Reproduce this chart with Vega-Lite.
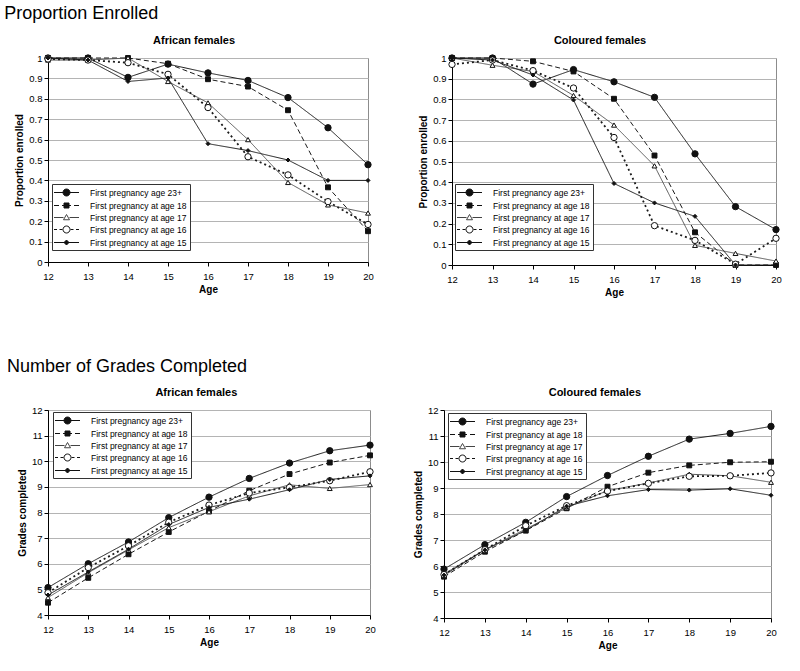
{
  "$schema": "https://vega.github.io/schema/vega-lite/v6.json",
  "padding": {"left": 4, "top": 5, "right": 0, "bottom": 0},
  "background": "white",
  "spacing": 59,
  "resolve": {"scale": {"shape": "independent", "fill": "independent", "stroke": "independent"}, "legend": {"shape": "independent", "fill": "independent", "stroke": "independent"}},
  "datasets": {
    "eA": [
      {"a":12,"s":"23+","v":1.0},{"a":13,"s":"23+","v":1.0},{"a":14,"s":"23+","v":0.905},{"a":15,"s":"23+","v":0.97},{"a":16,"s":"23+","v":0.927},{"a":17,"s":"23+","v":0.89},{"a":18,"s":"23+","v":0.806},{"a":19,"s":"23+","v":0.658},{"a":20,"s":"23+","v":0.477},
      {"a":12,"s":"18","v":1.0},{"a":13,"s":"18","v":1.0},{"a":14,"s":"18","v":1.0},{"a":15,"s":"18","v":0.972},{"a":16,"s":"18","v":0.896},{"a":17,"s":"18","v":0.86},{"a":18,"s":"18","v":0.744},{"a":19,"s":"18","v":0.366},{"a":20,"s":"18","v":0.151},
      {"a":12,"s":"17","v":0.99},{"a":13,"s":"17","v":0.99},{"a":14,"s":"17","v":1.0},{"a":15,"s":"17","v":0.885},{"a":16,"s":"17","v":0.78},{"a":17,"s":"17","v":0.6},{"a":18,"s":"17","v":0.39},{"a":19,"s":"17","v":0.28},{"a":20,"s":"17","v":0.24},
      {"a":12,"s":"16","v":0.995},{"a":13,"s":"16","v":0.99},{"a":14,"s":"16","v":0.977},{"a":15,"s":"16","v":0.92},{"a":16,"s":"16","v":0.757},{"a":17,"s":"16","v":0.516},{"a":18,"s":"16","v":0.427},{"a":19,"s":"16","v":0.296},{"a":20,"s":"16","v":0.184},
      {"a":12,"s":"15","v":1.0},{"a":13,"s":"15","v":0.99},{"a":14,"s":"15","v":0.885},{"a":15,"s":"15","v":0.902},{"a":16,"s":"15","v":0.58},{"a":17,"s":"15","v":0.546},{"a":18,"s":"15","v":0.5},{"a":19,"s":"15","v":0.4},{"a":20,"s":"15","v":0.4}
    ],
    "eC": [
      {"a":12,"s":"23+","v":1.0},{"a":13,"s":"23+","v":1.0},{"a":14,"s":"23+","v":0.874},{"a":15,"s":"23+","v":0.944},{"a":16,"s":"23+","v":0.885},{"a":17,"s":"23+","v":0.81},{"a":18,"s":"23+","v":0.537},{"a":19,"s":"23+","v":0.282},{"a":20,"s":"23+","v":0.171},
      {"a":12,"s":"18","v":1.0},{"a":13,"s":"18","v":1.0},{"a":14,"s":"18","v":0.984},{"a":15,"s":"18","v":0.935},{"a":16,"s":"18","v":0.803},{"a":17,"s":"18","v":0.529},{"a":18,"s":"18","v":0.158},{"a":19,"s":"18","v":0.0},{"a":20,"s":"18","v":0.0},
      {"a":12,"s":"17","v":1.0},{"a":13,"s":"17","v":0.965},{"a":14,"s":"17","v":0.935},{"a":15,"s":"17","v":0.819},{"a":16,"s":"17","v":0.676},{"a":17,"s":"17","v":0.479},{"a":18,"s":"17","v":0.095},{"a":19,"s":"17","v":0.056},{"a":20,"s":"17","v":0.019},
      {"a":12,"s":"16","v":0.969},{"a":13,"s":"16","v":0.99},{"a":14,"s":"16","v":0.939},{"a":15,"s":"16","v":0.855},{"a":16,"s":"16","v":0.616},{"a":17,"s":"16","v":0.19},{"a":18,"s":"16","v":0.119},{"a":19,"s":"16","v":0.004},{"a":20,"s":"16","v":0.129},
      {"a":12,"s":"15","v":1.0},{"a":13,"s":"15","v":0.99},{"a":14,"s":"15","v":0.918},{"a":15,"s":"15","v":0.797},{"a":16,"s":"15","v":0.394},{"a":17,"s":"15","v":0.3},{"a":18,"s":"15","v":0.235},{"a":19,"s":"15","v":0.0},{"a":20,"s":"15","v":0.0}
    ],
    "gA": [
      {"a":12,"s":"23+","v":5.07},{"a":13,"s":"23+","v":6.0},{"a":14,"s":"23+","v":6.85},{"a":15,"s":"23+","v":7.8},{"a":16,"s":"23+","v":8.6},{"a":17,"s":"23+","v":9.33},{"a":18,"s":"23+","v":9.93},{"a":19,"s":"23+","v":10.41},{"a":20,"s":"23+","v":10.63},
      {"a":12,"s":"18","v":4.48},{"a":13,"s":"18","v":5.45},{"a":14,"s":"18","v":6.37},{"a":15,"s":"18","v":7.24},{"a":16,"s":"18","v":8.05},{"a":17,"s":"18","v":8.85},{"a":18,"s":"18","v":9.5},{"a":19,"s":"18","v":9.95},{"a":20,"s":"18","v":10.23},
      {"a":12,"s":"17","v":4.68},{"a":13,"s":"17","v":5.65},{"a":14,"s":"17","v":6.54},{"a":15,"s":"17","v":7.41},{"a":16,"s":"17","v":8.03},{"a":17,"s":"17","v":8.65},{"a":18,"s":"17","v":9.08},{"a":19,"s":"17","v":8.94},{"a":20,"s":"17","v":9.09},
      {"a":12,"s":"16","v":4.87},{"a":13,"s":"16","v":5.85},{"a":14,"s":"16","v":6.7},{"a":15,"s":"16","v":7.62},{"a":16,"s":"16","v":8.29},{"a":17,"s":"16","v":8.76},{"a":18,"s":"16","v":8.98},{"a":19,"s":"16","v":9.24},{"a":20,"s":"16","v":9.59},
      {"a":12,"s":"15","v":4.78},{"a":13,"s":"15","v":5.68},{"a":14,"s":"15","v":6.57},{"a":15,"s":"15","v":7.53},{"a":16,"s":"15","v":8.2},{"a":17,"s":"15","v":8.52},{"a":18,"s":"15","v":8.89},{"a":19,"s":"15","v":9.29},{"a":20,"s":"15","v":9.43}
    ],
    "gC": [
      {"a":12,"s":"23+","v":5.88},{"a":13,"s":"23+","v":6.82},{"a":14,"s":"23+","v":7.68},{"a":15,"s":"23+","v":8.67},{"a":16,"s":"23+","v":9.48},{"a":17,"s":"23+","v":10.22},{"a":18,"s":"23+","v":10.88},{"a":19,"s":"23+","v":11.1},{"a":20,"s":"23+","v":11.37},
      {"a":12,"s":"18","v":5.59},{"a":13,"s":"18","v":6.55},{"a":14,"s":"18","v":7.36},{"a":15,"s":"18","v":8.22},{"a":16,"s":"18","v":9.05},{"a":17,"s":"18","v":9.59},{"a":18,"s":"18","v":9.87},{"a":19,"s":"18","v":9.99},{"a":20,"s":"18","v":10.01},
      {"a":12,"s":"17","v":5.69},{"a":13,"s":"17","v":6.63},{"a":14,"s":"17","v":7.42},{"a":15,"s":"17","v":8.24},{"a":16,"s":"17","v":8.9},{"a":17,"s":"17","v":9.19},{"a":18,"s":"17","v":9.53},{"a":19,"s":"17","v":9.47},{"a":20,"s":"17","v":9.22},
      {"a":12,"s":"16","v":5.67},{"a":13,"s":"16","v":6.63},{"a":14,"s":"16","v":7.55},{"a":15,"s":"16","v":8.32},{"a":16,"s":"16","v":8.88},{"a":17,"s":"16","v":9.18},{"a":18,"s":"16","v":9.45},{"a":19,"s":"16","v":9.47},{"a":20,"s":"16","v":9.58},
      {"a":12,"s":"15","v":5.65},{"a":13,"s":"15","v":6.62},{"a":14,"s":"15","v":7.37},{"a":15,"s":"15","v":8.3},{"a":16,"s":"15","v":8.7},{"a":17,"s":"15","v":8.94},{"a":18,"s":"15","v":8.92},{"a":19,"s":"15","v":8.97},{"a":20,"s":"15","v":8.72}
    ]
  },
  "vconcat": [
    {
      "title": {"text": "Proportion Enrolled", "anchor": "start", "fontSize": 18, "fontWeight": "normal", "font": "Liberation Sans", "color": "black", "offset": 11, "frame": "bounds", "dx": -10},
      "spacing": 44,
      "resolve": {"scale": {"shape": "independent", "fill": "independent", "stroke": "independent"}, "legend": {"shape": "independent", "fill": "independent", "stroke": "independent"}},
      "hconcat": [
        {
          "width": 320, "height": 204,
          "data": {"name": "eA"},
          "title": {"text": "African females", "frame": "bounds"},
          "encoding": {
            "x": {"field": "a", "type": "quantitative", "scale": {"domain": [12, 20], "nice": false, "zero": false}, "axis": {"values": [12,13,14,15,16,17,18,19,20], "grid": false, "title": "Age"}},
            "y": {"field": "v", "type": "quantitative", "scale": {"domain": [0, 1], "nice": false}, "axis": {"values": [0,0.1,0.2,0.3,0.4,0.5,0.6,0.7,0.8,0.9,1], "format": "~g", "title": "Proportion enrolled"}}
          },
          "layer": [
            {"mark": {"type": "line"}, "encoding": {"detail": {"field": "s"},
              "stroke": {"condition": {"test": "datum.s=='17'", "value": "#555"}, "value": "#1a1a1a"},
              "strokeDash": {"condition": [{"test": "datum.s=='18'", "value": [5, 3]}, {"test": "datum.s=='16'", "value": [2, 3]}], "value": [1, 0]},
              "strokeWidth": {"condition": {"test": "datum.s=='16'", "value": 1.8}, "value": 1}}},
            {"mark": {"type": "point", "filled": true, "stroke": "#111", "strokeWidth": 1, "opacity": 1},
             "encoding": {
              "shape": {"condition": [{"test": "datum.s=='18'", "value": "square"}, {"test": "datum.s=='17'", "value": "triangle-up"}, {"test": "datum.s=='15'", "value": "diamond"}], "value": "circle"},
              "fill": {"condition": {"test": "datum.s=='17' || datum.s=='16'", "value": "white"}, "value": "#111"},
              "size": {"condition": [{"test": "datum.s=='23+' || datum.s=='16'", "value": 40}, {"test": "datum.s=='15'", "value": 16}], "value": 24}}},
            {"transform": [{"filter": "false"}],
             "mark": {"type": "point", "filled": true, "strokeWidth": 1, "opacity": 1, "size": 100},
             "encoding": {
              "shape": {"field": "s", "type": "nominal", "scale": {"domain": ["23+","18","17","16","15"], "range": ["M-2.5,0H2.5M-0.7,0A0.7,0.7 0 1,0 0.7,0A0.7,0.7 0 1,0 -0.7,0Z", "M-2.5,0H-1.5M-0.9,0H-0.5M0.5,0H0.9M1.5,0H2.5M-0.5,-0.5H0.5V0.5H-0.5Z", "M-2.5,0H-0.6M0.6,0H2.5M0,-0.6L0.6,0.45H-0.6Z", "M-2.5,0H-1.9M-1.4,0H-0.8M0.8,0H1.4M1.9,0H2.5M-0.7,0A0.7,0.7 0 1,0 0.7,0A0.7,0.7 0 1,0 -0.7,0Z", "M-2.5,0H2.5M0,-0.5L0.5,0L0,0.5L-0.5,0Z"]},
                "legend": {"title": null, "orient": "none", "legendX": 4, "legendY": 126, "labelExpr": "datum.value=='23+' ? 'First pregnancy age 23+' : 'First pregnancy at age ' + datum.value"}},
              "fill": {"field": "s", "type": "nominal", "scale": {"domain": ["23+","18","17","16","15"], "range": ["#111", "#111", "white", "white", "#111"]},
                "legend": {"title": null, "orient": "none", "legendX": 4, "legendY": 126, "labelExpr": "datum.value=='23+' ? 'First pregnancy age 23+' : 'First pregnancy at age ' + datum.value"}},
              "stroke": {"field": "s", "type": "nominal", "scale": {"domain": ["23+","18","17","16","15"], "range": ["#111", "#111", "#444", "#111", "#111"]},
                "legend": {"title": null, "orient": "none", "legendX": 4, "legendY": 126, "labelExpr": "datum.value=='23+' ? 'First pregnancy age 23+' : 'First pregnancy at age ' + datum.value"}}}}
          ]
        },
        {
          "width": 324, "height": 207,
          "data": {"name": "eC"},
          "title": {"text": "Coloured females", "frame": "bounds"},
          "encoding": {
            "x": {"field": "a", "type": "quantitative", "scale": {"domain": [12, 20], "nice": false, "zero": false}, "axis": {"values": [12,13,14,15,16,17,18,19,20], "grid": false, "title": "Age"}},
            "y": {"field": "v", "type": "quantitative", "scale": {"domain": [0, 1], "nice": false}, "axis": {"values": [0,0.1,0.2,0.3,0.4,0.5,0.6,0.7,0.8,0.9,1], "format": "~g", "title": "Proportion enrolled"}}
          },
          "layer": [
            {"mark": {"type": "line"}, "encoding": {"detail": {"field": "s"},
              "stroke": {"condition": {"test": "datum.s=='17'", "value": "#555"}, "value": "#1a1a1a"},
              "strokeDash": {"condition": [{"test": "datum.s=='18'", "value": [5, 3]}, {"test": "datum.s=='16'", "value": [2, 3]}], "value": [1, 0]},
              "strokeWidth": {"condition": {"test": "datum.s=='16'", "value": 1.8}, "value": 1}}},
            {"mark": {"type": "point", "filled": true, "stroke": "#111", "strokeWidth": 1, "opacity": 1},
             "encoding": {
              "shape": {"condition": [{"test": "datum.s=='18'", "value": "square"}, {"test": "datum.s=='17'", "value": "triangle-up"}, {"test": "datum.s=='15'", "value": "diamond"}], "value": "circle"},
              "fill": {"condition": {"test": "datum.s=='17' || datum.s=='16'", "value": "white"}, "value": "#111"},
              "size": {"condition": [{"test": "datum.s=='23+' || datum.s=='16'", "value": 40}, {"test": "datum.s=='15'", "value": 16}], "value": 24}}},
            {"transform": [{"filter": "false"}],
             "mark": {"type": "point", "filled": true, "strokeWidth": 1, "opacity": 1, "size": 100},
             "encoding": {
              "shape": {"field": "s", "type": "nominal", "scale": {"domain": ["23+","18","17","16","15"], "range": ["M-2.5,0H2.5M-0.7,0A0.7,0.7 0 1,0 0.7,0A0.7,0.7 0 1,0 -0.7,0Z", "M-2.5,0H-1.5M-0.9,0H-0.5M0.5,0H0.9M1.5,0H2.5M-0.5,-0.5H0.5V0.5H-0.5Z", "M-2.5,0H-0.6M0.6,0H2.5M0,-0.6L0.6,0.45H-0.6Z", "M-2.5,0H-1.9M-1.4,0H-0.8M0.8,0H1.4M1.9,0H2.5M-0.7,0A0.7,0.7 0 1,0 0.7,0A0.7,0.7 0 1,0 -0.7,0Z", "M-2.5,0H2.5M0,-0.5L0.5,0L0,0.5L-0.5,0Z"]},
                "legend": {"title": null, "orient": "none", "legendX": 3, "legendY": 126, "labelExpr": "datum.value=='23+' ? 'First pregnancy age 23+' : 'First pregnancy at age ' + datum.value"}},
              "fill": {"field": "s", "type": "nominal", "scale": {"domain": ["23+","18","17","16","15"], "range": ["#111", "#111", "white", "white", "#111"]},
                "legend": {"title": null, "orient": "none", "legendX": 3, "legendY": 126, "labelExpr": "datum.value=='23+' ? 'First pregnancy age 23+' : 'First pregnancy at age ' + datum.value"}},
              "stroke": {"field": "s", "type": "nominal", "scale": {"domain": ["23+","18","17","16","15"], "range": ["#111", "#111", "#444", "#111", "#111"]},
                "legend": {"title": null, "orient": "none", "legendX": 3, "legendY": 126, "labelExpr": "datum.value=='23+' ? 'First pregnancy age 23+' : 'First pregnancy at age ' + datum.value"}}}}
          ]
        }
      ]
    },
    {
      "title": {"text": "Number of Grades Completed", "anchor": "start", "fontSize": 18, "fontWeight": "normal", "font": "Liberation Sans", "color": "black", "offset": 11, "frame": "bounds", "dx": -10},
      "spacing": 36,
      "resolve": {"scale": {"shape": "independent", "fill": "independent", "stroke": "independent"}, "legend": {"shape": "independent", "fill": "independent", "stroke": "independent"}},
      "hconcat": [
        {
          "width": 322, "height": 205,
          "data": {"name": "gA"},
          "title": {"text": "African females", "frame": "bounds"},
          "encoding": {
            "x": {"field": "a", "type": "quantitative", "scale": {"domain": [12, 20], "nice": false, "zero": false}, "axis": {"values": [12,13,14,15,16,17,18,19,20], "grid": false, "title": "Age"}},
            "y": {"field": "v", "type": "quantitative", "scale": {"domain": [4, 12], "nice": false, "zero": false}, "axis": {"values": [4,5,6,7,8,9,10,11,12], "title": "Grades completed"}}
          },
          "layer": [
            {"mark": {"type": "line"}, "encoding": {"detail": {"field": "s"},
              "stroke": {"condition": {"test": "datum.s=='17'", "value": "#555"}, "value": "#1a1a1a"},
              "strokeDash": {"condition": [{"test": "datum.s=='18'", "value": [5, 3]}, {"test": "datum.s=='16'", "value": [2, 3]}], "value": [1, 0]},
              "strokeWidth": {"condition": {"test": "datum.s=='16'", "value": 1.8}, "value": 1}}},
            {"mark": {"type": "point", "filled": true, "stroke": "#111", "strokeWidth": 1, "opacity": 1},
             "encoding": {
              "shape": {"condition": [{"test": "datum.s=='18'", "value": "square"}, {"test": "datum.s=='17'", "value": "triangle-up"}, {"test": "datum.s=='15'", "value": "diamond"}], "value": "circle"},
              "fill": {"condition": {"test": "datum.s=='17' || datum.s=='16'", "value": "white"}, "value": "#111"},
              "size": {"condition": [{"test": "datum.s=='23+' || datum.s=='16'", "value": 40}, {"test": "datum.s=='15'", "value": 16}], "value": 24}}},
            {"transform": [{"filter": "false"}],
             "mark": {"type": "point", "filled": true, "strokeWidth": 1, "opacity": 1, "size": 100},
             "encoding": {
              "shape": {"field": "s", "type": "nominal", "scale": {"domain": ["23+","18","17","16","15"], "range": ["M-2.5,0H2.5M-0.7,0A0.7,0.7 0 1,0 0.7,0A0.7,0.7 0 1,0 -0.7,0Z", "M-2.5,0H-1.5M-0.9,0H-0.5M0.5,0H0.9M1.5,0H2.5M-0.5,-0.5H0.5V0.5H-0.5Z", "M-2.5,0H-0.6M0.6,0H2.5M0,-0.6L0.6,0.45H-0.6Z", "M-2.5,0H-1.9M-1.4,0H-0.8M0.8,0H1.4M1.9,0H2.5M-0.7,0A0.7,0.7 0 1,0 0.7,0A0.7,0.7 0 1,0 -0.7,0Z", "M-2.5,0H2.5M0,-0.5L0.5,0L0,0.5L-0.5,0Z"]},
                "legend": {"title": null, "orient": "none", "legendX": 5, "legendY": 2, "labelExpr": "datum.value=='23+' ? 'First pregnancy age 23+' : 'First pregnancy at age ' + datum.value"}},
              "fill": {"field": "s", "type": "nominal", "scale": {"domain": ["23+","18","17","16","15"], "range": ["#111", "#111", "white", "white", "#111"]},
                "legend": {"title": null, "orient": "none", "legendX": 5, "legendY": 2, "labelExpr": "datum.value=='23+' ? 'First pregnancy age 23+' : 'First pregnancy at age ' + datum.value"}},
              "stroke": {"field": "s", "type": "nominal", "scale": {"domain": ["23+","18","17","16","15"], "range": ["#111", "#111", "#444", "#111", "#111"]},
                "legend": {"title": null, "orient": "none", "legendX": 5, "legendY": 2, "labelExpr": "datum.value=='23+' ? 'First pregnancy age 23+' : 'First pregnancy at age ' + datum.value"}}}}
          ]
        },
        {
          "width": 327, "height": 208,
          "data": {"name": "gC"},
          "title": {"text": "Coloured females", "frame": "bounds"},
          "encoding": {
            "x": {"field": "a", "type": "quantitative", "scale": {"domain": [12, 20], "nice": false, "zero": false}, "axis": {"values": [12,13,14,15,16,17,18,19,20], "grid": false, "title": "Age"}},
            "y": {"field": "v", "type": "quantitative", "scale": {"domain": [4, 12], "nice": false, "zero": false}, "axis": {"values": [4,5,6,7,8,9,10,11,12], "title": "Grades completed"}}
          },
          "layer": [
            {"mark": {"type": "line"}, "encoding": {"detail": {"field": "s"},
              "stroke": {"condition": {"test": "datum.s=='17'", "value": "#555"}, "value": "#1a1a1a"},
              "strokeDash": {"condition": [{"test": "datum.s=='18'", "value": [5, 3]}, {"test": "datum.s=='16'", "value": [2, 3]}], "value": [1, 0]},
              "strokeWidth": {"condition": {"test": "datum.s=='16'", "value": 1.8}, "value": 1}}},
            {"mark": {"type": "point", "filled": true, "stroke": "#111", "strokeWidth": 1, "opacity": 1},
             "encoding": {
              "shape": {"condition": [{"test": "datum.s=='18'", "value": "square"}, {"test": "datum.s=='17'", "value": "triangle-up"}, {"test": "datum.s=='15'", "value": "diamond"}], "value": "circle"},
              "fill": {"condition": {"test": "datum.s=='17' || datum.s=='16'", "value": "white"}, "value": "#111"},
              "size": {"condition": [{"test": "datum.s=='23+' || datum.s=='16'", "value": 40}, {"test": "datum.s=='15'", "value": 16}], "value": 24}}},
            {"transform": [{"filter": "false"}],
             "mark": {"type": "point", "filled": true, "strokeWidth": 1, "opacity": 1, "size": 100},
             "encoding": {
              "shape": {"field": "s", "type": "nominal", "scale": {"domain": ["23+","18","17","16","15"], "range": ["M-2.5,0H2.5M-0.7,0A0.7,0.7 0 1,0 0.7,0A0.7,0.7 0 1,0 -0.7,0Z", "M-2.5,0H-1.5M-0.9,0H-0.5M0.5,0H0.9M1.5,0H2.5M-0.5,-0.5H0.5V0.5H-0.5Z", "M-2.5,0H-0.6M0.6,0H2.5M0,-0.6L0.6,0.45H-0.6Z", "M-2.5,0H-1.9M-1.4,0H-0.8M0.8,0H1.4M1.9,0H2.5M-0.7,0A0.7,0.7 0 1,0 0.7,0A0.7,0.7 0 1,0 -0.7,0Z", "M-2.5,0H2.5M0,-0.5L0.5,0L0,0.5L-0.5,0Z"]},
                "legend": {"title": null, "orient": "none", "legendX": 4, "legendY": 3, "labelExpr": "datum.value=='23+' ? 'First pregnancy age 23+' : 'First pregnancy at age ' + datum.value"}},
              "fill": {"field": "s", "type": "nominal", "scale": {"domain": ["23+","18","17","16","15"], "range": ["#111", "#111", "white", "white", "#111"]},
                "legend": {"title": null, "orient": "none", "legendX": 4, "legendY": 3, "labelExpr": "datum.value=='23+' ? 'First pregnancy age 23+' : 'First pregnancy at age ' + datum.value"}},
              "stroke": {"field": "s", "type": "nominal", "scale": {"domain": ["23+","18","17","16","15"], "range": ["#111", "#111", "#444", "#111", "#111"]},
                "legend": {"title": null, "orient": "none", "legendX": 4, "legendY": 3, "labelExpr": "datum.value=='23+' ? 'First pregnancy age 23+' : 'First pregnancy at age ' + datum.value"}}}}
          ]
        }
      ]
    }
  ],
  "config": {
    "font": "Liberation Sans",
    "view": {"stroke": "#8c8c8c", "strokeWidth": 1},
    "title": {"fontSize": 11, "fontWeight": "bold", "color": "black", "offset": 7, "font": "Liberation Sans"},
    "axis": {"labelFont": "Liberation Sans", "labelFontSize": 9.5, "labelColor": "black", "titleFont": "Liberation Sans", "titleFontSize": 10, "titleFontWeight": "bold", "titleColor": "black", "domainColor": "black", "domainWidth": 1, "tickColor": "black", "tickSize": 4, "gridColor": "#b4b4b4", "gridWidth": 1, "labelPadding": 3},
    "axisX": {"labelPadding": 5, "titlePadding": 4, "labelFlush": false},
    "axisY": {"titlePadding": 4, "labelPadding": 2},
    "legend": {"labelFont": "Liberation Sans", "fillColor": "white", "strokeColor": "#333", "padding": 3, "symbolSize": 100, "symbolOffset": 6, "labelOffset": 18, "labelFontSize": 8.5, "labelColor": "black", "rowPadding": 2, "symbolStrokeWidth": 1}
  }
}
